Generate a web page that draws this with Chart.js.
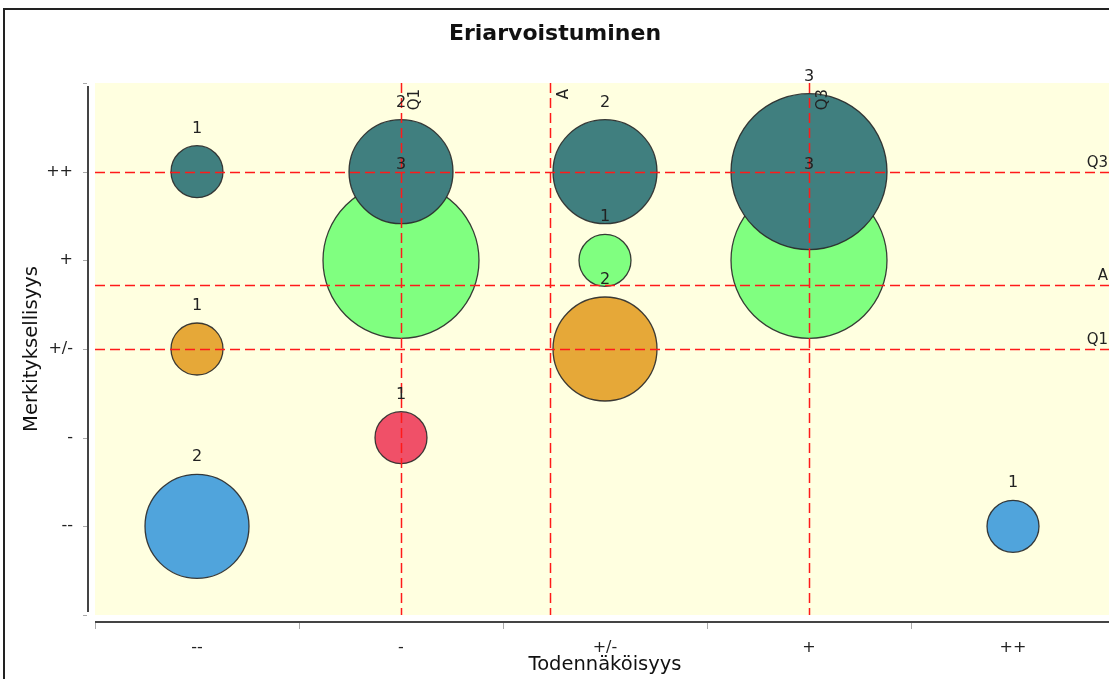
<!DOCTYPE html>
<html>
<head>
<meta charset="utf-8">
<script src="https://cdn.jsdelivr.net/npm/chart.js@4.4.0/dist/chart.umd.min.js"></script>
<style>
  html, body { margin: 0; padding: 0; background: #fff; overflow: hidden; }
  #wrap { position: relative; width: 1115px; height: 679px; }
</style>
</head>
<body>
<div id="wrap"><canvas id="bubbleChart" width="1115" height="679"></canvas></div>
<script>
// category labels for both axes
const levels = ['--', '-', '+/-', '+', '++'];

// one series per Merkityksellisyys level: x index, count
const tealX = [0, 1, 2, 3];
const tealN = [1, 2, 2, 3];
const greenX = [1, 2, 3];
const greenN = [3, 1, 3];
const orangeX = [0, 2];
const orangeN = [1, 2];
const redX = [1];
const redN = [1];
const blueX = [0, 4];
const blueN = [2, 1];

// reference lines (Q1, A, Q3)
const refNames = ['Q1', 'A', 'Q3'];
const refX = [1, 1.73, 3];
const refY = [2, 2.72, 4];

const font = '"DejaVu Sans", sans-serif';

function points(xs, ns, yLevel) {
  return xs.map((x, i) => ({ x: x, y: yLevel, n: ns[i] }));
}

function makeSet(label, xs, ns, yLevel, color) {
  return {
    label: label,
    data: points(xs, ns, yLevel),
    backgroundColor: color,
    borderColor: 'rgba(40,40,40,0.9)',
    borderWidth: 1.3,
    radius: ctx => ctx.raw ? ctx.raw.n * 26 : 0,
    hoverRadius: 0
  };
}

const decorations = {
  id: 'decorations',
  beforeDraw(chart) {
    const c = chart.ctx;
    const a = chart.chartArea;
    c.save();
    // frame
    c.strokeStyle = '#222';
    c.lineWidth = 2;
    c.beginPath();
    c.moveTo(4, 700);
    c.lineTo(4, 9);
    c.lineTo(1200, 9);
    c.stroke();
    // plot background
    c.fillStyle = '#ffffe0';
    c.fillRect(a.left, a.top, a.right - a.left, a.bottom - a.top);
    c.restore();
  },
  afterDatasetsDraw(chart) {
    const c = chart.ctx;
    const a = chart.chartArea;
    const xs = chart.scales.x;
    const ys = chart.scales.y;
    c.save();

    // reference lines
    c.strokeStyle = '#ff1a1a';
    c.lineWidth = 1.5;
    c.setLineDash([10, 5]);
    refX.forEach(v => {
      const px = Math.round(xs.getPixelForValue(v)) + 0.5;
      c.beginPath();
      c.moveTo(px, a.top);
      c.lineTo(px, a.bottom);
      c.stroke();
    });
    refY.forEach(v => {
      const py = Math.round(ys.getPixelForValue(v)) + 0.5;
      c.beginPath();
      c.moveTo(a.left, py);
      c.lineTo(a.right, py);
      c.stroke();
    });
    c.setLineDash([]);

    // reference labels
    c.fillStyle = '#222';
    c.font = '15px ' + font;
    c.textAlign = 'right';
    c.textBaseline = 'alphabetic';
    refY.forEach((v, i) => {
      c.fillText(refNames[i], 1108, ys.getPixelForValue(v) - 5);
    });
    refX.forEach((v, i) => {
      c.save();
      c.translate(xs.getPixelForValue(v) + 18, 89);
      c.rotate(-Math.PI / 2);
      c.fillText(refNames[i], 0, 0);
      c.restore();
    });

    // count labels above each bubble
    c.font = '16px ' + font;
    c.textAlign = 'center';
    chart.data.datasets.forEach((ds, di) => {
      const meta = chart.getDatasetMeta(di);
      meta.data.forEach((el, i) => {
        const p = ds.data[i];
        c.fillText(String(p.n), el.x, el.y - p.n * 26 - 13);
      });
    });

    // axis lines and tick marks
    c.strokeStyle = '#444';
    c.lineWidth = 2;
    c.beginPath();
    c.moveTo(a.left, a.bottom + 7);
    c.lineTo(a.right, a.bottom + 7);
    c.stroke();
    c.beginPath();
    c.moveTo(a.left - 7, a.top + 3);
    c.lineTo(a.left - 7, a.bottom - 3);
    c.stroke();
    c.strokeStyle = '#aaa';
    c.lineWidth = 1;
    for (let k = 0; k <= levels.length; k++) {
      const px = Math.round(xs.getPixelForValue(k - 0.5)) + 0.5;
      c.beginPath();
      c.moveTo(px, a.bottom + 8);
      c.lineTo(px, a.bottom + 14);
      c.stroke();
    }
    for (let k = -1; k <= levels.length; k++) {
      const py = Math.round(ys.getPixelForValue(k)) + 0.5;
      c.beginPath();
      c.moveTo(a.left - 8, py);
      c.lineTo(a.left - 12, py);
      c.stroke();
    }

    // titles
    c.fillStyle = '#111';
    c.font = 'bold 22px ' + font;
    c.textAlign = 'center';
    c.fillText('Eriarvoistuminen', 555, 40);
    c.font = '19.5px ' + font;
    c.fillText('Todennäköisyys', (a.left + a.right) / 2, 670);
    c.save();
    c.translate(37, (a.top + a.bottom) / 2);
    c.rotate(-Math.PI / 2);
    c.fillText('Merkityksellisyys', 0, 0);
    c.restore();
    c.restore();
  }
};

const tickLabel = v => levels[v] !== undefined ? levels[v] : '';

new Chart(document.getElementById('bubbleChart').getContext('2d'), {
  type: 'bubble',
  data: {
    datasets: [
      makeSet('++', tealX, tealN, 4, '#407f7f'),
      makeSet('+', greenX, greenN, 3, '#80ff80'),
      makeSet('+/-', orangeX, orangeN, 2, '#e6a838'),
      makeSet('-', redX, redN, 1, '#f05068'),
      makeSet('--', blueX, blueN, 0, '#50a4dc')
    ]
  },
  options: {
    responsive: false,
    animation: false,
    clip: false,
    layout: { autoPadding: false, padding: { left: 0, top: 83, right: 0, bottom: 0 } },
    plugins: {
      legend: { display: false },
      title: { display: false },
      tooltip: { enabled: false }
    },
    scales: {
      x: {
        type: 'linear',
        min: -0.5,
        max: 4.5,
        afterBuildTicks: s => { s.ticks = levels.map((_, i) => ({ value: i })); },
        afterFit: s => { s.height = 64; },
        grid: { display: false, drawTicks: false },
        border: { display: false },
        ticks: {
          padding: 23,
          color: '#222',
          font: { family: font, size: 16 },
          callback: tickLabel
        }
      },
      y: {
        type: 'linear',
        min: -1,
        max: 5,
        afterBuildTicks: s => { s.ticks = levels.map((_, i) => ({ value: i })); },
        afterFit: s => { s.width = 95; },
        grid: { display: false, drawTicks: false },
        border: { display: false },
        ticks: {
          padding: 22,
          color: '#222',
          font: { family: font, size: 16 },
          callback: tickLabel
        }
      }
    }
  },
  plugins: [decorations]
});
</script>
</body>
</html>
